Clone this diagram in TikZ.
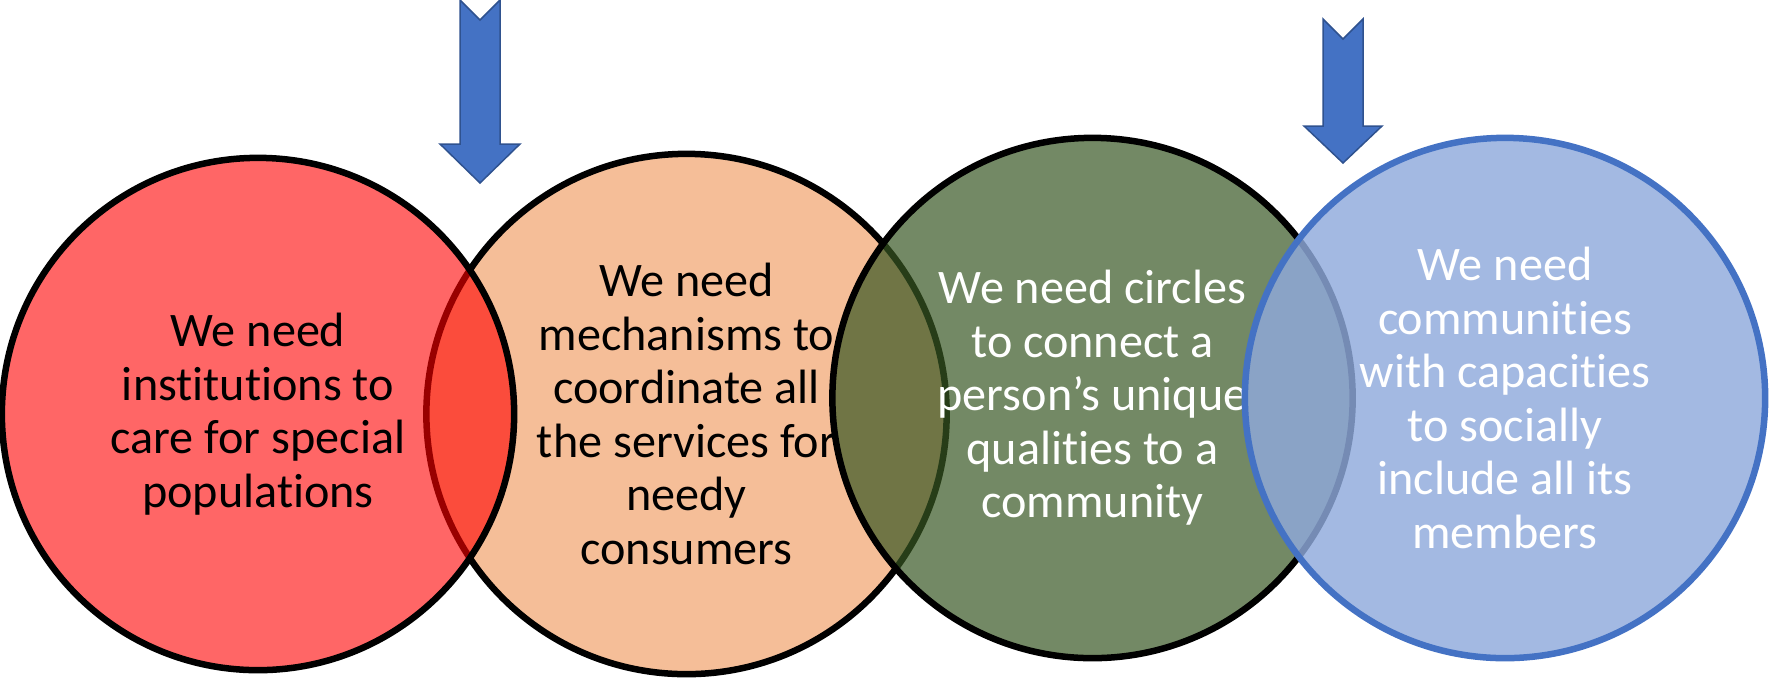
\documentclass[tikz,border=0pt]{standalone}
\usepackage{fontspec}
\setmainfont{Carlito}[Ligatures=NoCommon]
\usetikzlibrary{positioning}

\definecolor{peach}{RGB}{245,190,152}
\definecolor{moss}{RGB}{56,87,35}
\definecolor{skyfill}{RGB}{143,170,220}
\definecolor{ringblue}{RGB}{68,114,196}
\definecolor{arrowedge}{RGB}{47,82,143}

\begin{document}
\begin{tikzpicture}[
    x=0.01cm, y=-0.01cm,
    disc/.style={circle, draw, line width=0.065cm, inner sep=0pt, align=center,
        text opacity=1, font=\fontsize{13.7pt}{15.2pt}\selectfont},
    downarrow/.style={fill=ringblue, draw=arrowedge, line width=0.015cm, line join=miter}
]
\useasboundingbox (0,0) rectangle (1770,678);

% the four overlapping circles, left to right
\node[disc, fill=peach, minimum size=5.2cm] (coord) at (686.5,414)
    {We need\\mechanisms to\\coordinate all\\the services for\\needy\\consumers};
\node[disc, fill=red, fill opacity=0.6, minimum size=5.12cm] (inst) at (258,414)
    {We need\\institutions to\\care for special\\populations};
\node[disc, fill=moss, fill opacity=0.7, text=white, minimum size=5.2cm] (circles) at (1092.5,398)
    {We need circles\\to connect a\\person’s unique\\qualities to a\\community};
\node[disc, draw=ringblue, fill=skyfill, fill opacity=0.82, text=white, minimum size=5.2cm] (comm) at (1505,398)
    {We need\\communities\\with capacities\\to socially\\include all its\\members};

% block arrows pointing down at the overlaps
\draw[downarrow] (460,0) -- (480,20) -- (500,0) -- (500,144) -- (520,144)
    -- (480,183) -- (440,144) -- (460,144) -- cycle;
\draw[downarrow] (1323,19) -- (1343,39) -- (1363,19) -- (1363,126) -- (1382,126)
    -- (1343,163) -- (1304,126) -- (1323,126) -- cycle;
\end{tikzpicture}
\end{document}
